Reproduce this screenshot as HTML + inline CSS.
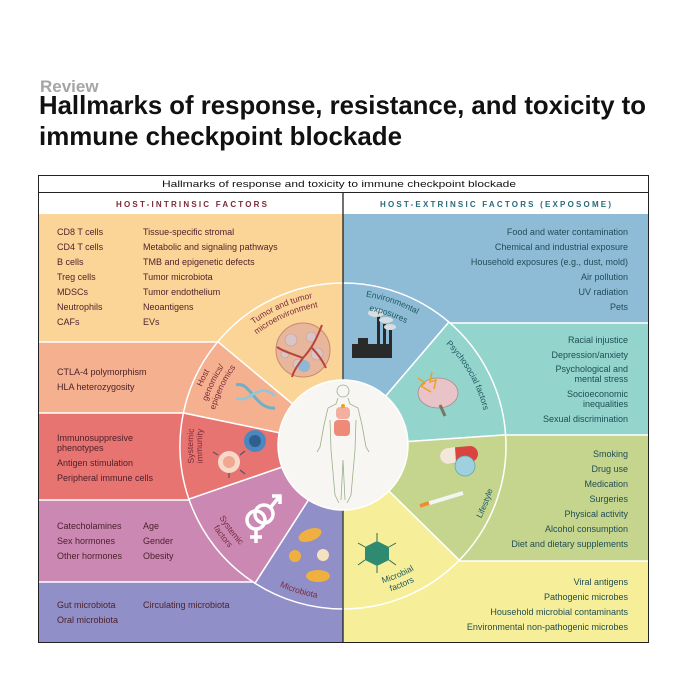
<!DOCTYPE html>
<html><head><meta charset="utf-8"><style>
html,body{margin:0;padding:0;background:#fff;}
svg{display:block;font-family:"Liberation Sans",Arial,sans-serif;}
.lt{font-size:9px;fill:#4a1f2a;}
.rt{font-size:9px;fill:#1f4d55;text-anchor:end;}
.ll{font-size:8.5px;fill:#7a2a3a;}
.rl{font-size:8.5px;fill:#1f5a60;}
</style></head><body>
<svg width="685" height="685" viewBox="0 0 685 685" xmlns="http://www.w3.org/2000/svg">
<defs>
<path id="t133" d="M241.1,360.5 A133,133 0 0 1 444.9,360.5"/>
<path id="t138" d="M237.3,357.3 A138,138 0 0 1 448.7,357.3"/>
<path id="t139" d="M236.5,356.6 A139,139 0 0 1 449.5,356.6"/>
<path id="t141" d="M235.0,355.3 A141,141 0 0 1 451.0,355.3"/>
<path id="t143" d="M233.5,354.1 A143,143 0 0 1 452.5,354.1"/>
<path id="t145" d="M231.9,352.8 A145,145 0 0 1 454.1,352.8"/>
<path id="t150" d="M228.1,349.6 A150,150 0 0 1 457.9,349.6"/>
<path id="t151" d="M227.3,348.9 A151,151 0 0 1 458.7,348.9"/>
<path id="t153" d="M225.8,347.6 A153,153 0 0 1 460.2,347.6"/>
<path id="b143" d="M233.5,537.9 A143,143 0 0 0 452.5,537.9"/>
<path id="b153" d="M225.8,544.4 A153,153 0 0 0 460.2,544.4"/>
<path id="b154" d="M225.0,545.0 A154,154 0 0 0 461.0,545.0"/>
<path id="b156" d="M223.5,546.3 A156,156 0 0 0 462.5,546.3"/>
</defs>

<rect width="685" height="685" fill="#fff"/>
<text x="40" y="92" font-size="17" font-weight="bold" fill="#a5a5a5">Review</text>
<text x="39" y="114" font-size="26" font-weight="bold" fill="#111" textLength="607" lengthAdjust="spacingAndGlyphs">Hallmarks of response, resistance, and toxicity to</text>
<text x="39" y="145" font-size="26" font-weight="bold" fill="#111" textLength="363" lengthAdjust="spacingAndGlyphs">immune checkpoint blockade</text>

<rect x="38" y="214" width="305" height="128" fill="#fbd597"/>
<rect x="38" y="342" width="305" height="71" fill="#f4b08f"/>
<rect x="38" y="413" width="305" height="87" fill="#e77470"/>
<rect x="38" y="500" width="305" height="82" fill="#cb88b3"/>
<rect x="38" y="582" width="305" height="60" fill="#918fc7"/>
<rect x="343" y="214" width="305" height="109" fill="#8ebbd6"/>
<rect x="343" y="323" width="305" height="112" fill="#93d4cc"/>
<rect x="343" y="435" width="305" height="126" fill="#c5d58d"/>
<rect x="343" y="561" width="305" height="81" fill="#f6ee98"/>
<g stroke="#fff" stroke-width="1.5">
<line x1="38" y1="342" x2="218" y2="342"/><line x1="38" y1="413" x2="184" y2="413"/>
<line x1="38" y1="500" x2="189" y2="500"/><line x1="38" y1="582" x2="255" y2="582"/>
<line x1="449" y1="323" x2="648" y2="323"/><line x1="505" y1="435" x2="648" y2="435"/>
<line x1="459" y1="561" x2="648" y2="561"/>
</g>

<g stroke="#fff" stroke-width="1.5">
<path d="M343,446 L217.8,341.7 A163,163 0 0 1 343,283 Z" fill="#fbd597"/>
<path d="M343,446 L343,283 A163,163 0 0 1 448.9,322.1 Z" fill="#8ebbd6"/>
<path d="M343,446 L448.9,322.1 A163,163 0 0 1 505.6,434.9 Z" fill="#93d4cc"/>
<path d="M343,446 L505.6,434.9 A163,163 0 0 1 459.3,560.2 Z" fill="#c5d58d"/>
<path d="M343,446 L459.3,560.2 A163,163 0 0 1 343,609 Z" fill="#f6ee98"/>
<path d="M343,446 L343,609 A163,163 0 0 1 255.0,583.2 Z" fill="#918fc7"/>
<path d="M343,446 L255.0,583.2 A163,163 0 0 1 188.9,499.1 Z" fill="#cb88b3"/>
<path d="M343,446 L188.9,499.1 A163,163 0 0 1 183.4,412.9 Z" fill="#e77470"/>
<path d="M343,446 L183.4,412.9 A163,163 0 0 1 217.8,341.7 Z" fill="#f4b08f"/>
</g>

<rect x="38.5" y="175.5" width="610" height="467" fill="none" stroke="#222" stroke-width="1"/>
<rect x="39" y="176" width="609" height="16" fill="#fff"/>
<rect x="39" y="192" width="609" height="22" fill="#fff"/>
<line x1="38" y1="192.5" x2="648" y2="192.5" stroke="#222" stroke-width="1"/>
<line x1="343" y1="192" x2="343" y2="642" stroke="#222" stroke-width="1.3"/>
<text x="162" y="187" font-size="9.5" fill="#111" textLength="354" lengthAdjust="spacingAndGlyphs">Hallmarks of response and toxicity to immune checkpoint blockade</text>
<text x="116" y="207" font-size="8" font-weight="bold" fill="#7a2a3a" textLength="151" lengthAdjust="spacing">HOST-INTRINSIC FACTORS</text>
<text x="380" y="207" font-size="8" font-weight="bold" fill="#2a6a7a" textLength="231" lengthAdjust="spacing">HOST-EXTRINSIC FACTORS (EXPOSOME)</text>

<g class="lt">
<text x="57" y="235">CD8 T cells</text><text x="57" y="250">CD4 T cells</text><text x="57" y="265">B cells</text>
<text x="57" y="280">Treg cells</text><text x="57" y="295">MDSCs</text><text x="57" y="310">Neutrophils</text><text x="57" y="325">CAFs</text>
<text x="143" y="235">Tissue-specific stromal</text><text x="143" y="250">Metabolic and signaling pathways</text>
<text x="143" y="265">TMB and epigenetic defects</text><text x="143" y="280">Tumor microbiota</text>
<text x="143" y="295">Tumor endothelium</text><text x="143" y="310">Neoantigens</text><text x="143" y="325">EVs</text>
<text x="57" y="375">CTLA-4 polymorphism</text><text x="57" y="390">HLA heterozygosity</text>
<text x="57" y="441">Immunosuppresive</text><text x="57" y="451">phenotypes</text>
<text x="57" y="466">Antigen stimulation</text><text x="57" y="481">Peripheral immune cells</text>
<text x="57" y="529">Catecholamines</text><text x="57" y="544">Sex hormones</text><text x="57" y="559">Other hormones</text>
<text x="143" y="529">Age</text><text x="143" y="544">Gender</text><text x="143" y="559">Obesity</text>
<text x="57" y="608">Gut microbiota</text><text x="57" y="623">Oral microbiota</text>
<text x="143" y="608">Circulating microbiota</text>
</g>
<g class="rt">
<text x="628" y="235">Food and water contamination</text><text x="628" y="250">Chemical and industrial exposure</text>
<text x="628" y="265">Household exposures (e.g., dust, mold)</text><text x="628" y="280">Air pollution</text>
<text x="628" y="295">UV radiation</text><text x="628" y="310">Pets</text>
<text x="628" y="343">Racial injustice</text><text x="628" y="358">Depression/anxiety</text>
<text x="628" y="372">Psychological and</text><text x="628" y="382">mental stress</text>
<text x="628" y="397">Socioeconomic</text><text x="628" y="407">inequalities</text>
<text x="628" y="422">Sexual discrimination</text>
<text x="628" y="457">Smoking</text><text x="628" y="472">Drug use</text><text x="628" y="487">Medication</text>
<text x="628" y="502">Surgeries</text><text x="628" y="517">Physical activity</text>
<text x="628" y="532">Alcohol consumption</text><text x="628" y="547">Diet and dietary supplements</text>
<text x="628" y="585">Viral antigens</text><text x="628" y="600">Pathogenic microbes</text>
<text x="628" y="615">Household microbial contaminants</text><text x="628" y="630">Environmental non-pathogenic microbes</text>
</g>

<!-- icons (drawn before labels) -->
<circle cx="303" cy="350" r="27" fill="#e8b69a" stroke="#c98a70" stroke-width="1"/>
<g fill="#d9c4c8" stroke="#c9a090" stroke-width="0.6">
<circle cx="291" cy="340" r="6"/><circle cx="311" cy="337" r="5"/><circle cx="317" cy="354" r="6"/>
<circle cx="298" cy="364" r="5"/><circle cx="285" cy="354" r="4"/></g>
<circle cx="304" cy="366" r="6" fill="#8fb8d6"/>
<path d="M322,325 C316,340 312,348 303,358 M303,358 C298,365 294,370 292,377 M312,348 C321,357 324,364 326,368 M303,358 C293,354 284,352 277,347" stroke="#b8443e" stroke-width="2" fill="none"/>
<path d="M236,385 C250,380 255,410 275,408" stroke="#6fb0c8" stroke-width="3" fill="none"/>
<path d="M236,398 C250,405 258,380 275,396" stroke="#8fc8d8" stroke-width="2.5" fill="none"/>
<circle cx="255" cy="441" r="11" fill="#4b88c0"/><circle cx="255" cy="441" r="6" fill="#2f5f90"/>
<circle cx="229" cy="462" r="11" fill="#f8d8c8"/><circle cx="229" cy="462" r="6" fill="#f0a890"/>
<g stroke="#556" stroke-width="1.2"><line x1="218" y1="455" x2="213" y2="452"/><line x1="240" y1="455" x2="245" y2="451"/><line x1="229" y1="473" x2="229" y2="478"/><line x1="240" y1="470" x2="245" y2="474"/></g>
<g stroke="#fff" stroke-width="3.5" fill="none">
<circle cx="256" cy="520" r="9"/><circle cx="264" cy="514" r="9"/>
<line x1="256" y1="529" x2="256" y2="543"/><line x1="250" y1="537" x2="262" y2="537"/>
<line x1="270" y1="508" x2="279" y2="497"/><path d="M272,496 L280,496 L280,504"/></g>
<g fill="#f0b040"><ellipse cx="310" cy="535" rx="12" ry="6" transform="rotate(-20 310 535)"/>
<circle cx="295" cy="556" r="6"/><ellipse cx="318" cy="576" rx="12" ry="6"/></g>
<circle cx="323" cy="555" r="6" fill="#f5e3c0"/>
<g fill="#2a2a2a"><rect x="352" y="344" width="40" height="14"/><rect x="377" y="316" width="3" height="30"/><rect x="383" y="324" width="3" height="22"/><rect x="389" y="330" width="3" height="16"/><rect x="358" y="338" width="10" height="8"/></g>
<g fill="#d8dde0"><ellipse cx="376" cy="313" rx="8" ry="4"/><ellipse cx="386" cy="320" rx="7" ry="3"/><ellipse cx="390" cy="327" rx="6" ry="3"/></g>
<ellipse cx="438" cy="393" rx="20" ry="15" fill="#e8c4c8" stroke="#a88" stroke-width="0.8"/>
<path d="M440,405 L445,416" stroke="#776" stroke-width="3"/>
<path d="M418,378 L425,383 L421,386 L431,392 M432,372 L430,382 L436,380 L434,389" stroke="#f0a020" stroke-width="1.5" fill="none"/>
<path d="M440,456 a8,8 0 0 1 8,-8 L470,446 a8,8 0 0 1 0,16 L448,464 a8,8 0 0 1 -8,-8Z" fill="#d94440"/>
<path d="M440,456 a8,8 0 0 1 8,-8 L455,447 L456,463 L448,464 a8,8 0 0 1 -8,-8Z" fill="#f2e8da"/>
<circle cx="465" cy="466" r="10" fill="#9fd0e0" stroke="#6aa" stroke-width="0.8"/>
<line x1="420" y1="506" x2="463" y2="493" stroke="#f4f4f4" stroke-width="4"/>
<line x1="420" y1="506" x2="429" y2="503" stroke="#e89030" stroke-width="4"/>
<polygon points="377,541 389,547 389,560 377,566 365,560 365,547" fill="#2e8a70"/>
<g stroke="#2e6a58" stroke-width="1"><line x1="377" y1="541" x2="377" y2="533"/><line x1="389" y1="547" x2="396" y2="543"/><line x1="389" y1="560" x2="396" y2="565"/><line x1="377" y1="566" x2="377" y2="573"/><line x1="365" y1="560" x2="358" y2="565"/><line x1="365" y1="547" x2="358" y2="543"/></g>

<g text-anchor="middle">
<text class="ll" transform="rotate(-24 343 446)"><textPath href="#t151" startOffset="50%">Tumor and tumor</textPath></text>
<text class="ll" transform="rotate(-24 343 446)"><textPath href="#t141" startOffset="50%">microenvironment</textPath></text>
<text class="ll" transform="rotate(-64 343 446)"><textPath href="#t153" startOffset="50%">Host</textPath></text>
<text class="ll" transform="rotate(-64 343 446)"><textPath href="#t143" startOffset="50%">genomics/</textPath></text>
<text class="ll" transform="rotate(-64 343 446)"><textPath href="#t133" startOffset="50%">epigenomics</textPath></text>
<text class="ll" transform="rotate(-90 343 446)"><textPath href="#t150" startOffset="50%">Systemic</textPath></text>
<text class="ll" transform="rotate(-90 343 446)"><textPath href="#t141" startOffset="50%">immunity</textPath></text>
<text class="ll" transform="rotate(53 343 446)"><textPath href="#b143" startOffset="50%">Systemic</textPath></text>
<text class="ll" transform="rotate(53 343 446)"><textPath href="#b153" startOffset="50%">factors</textPath></text>
<text class="ll" transform="rotate(17 343 446)"><textPath href="#b154" startOffset="50%">Microbiota</textPath></text>
<text class="rl" transform="rotate(19 343 446)"><textPath href="#t151" startOffset="50%">Environmental</textPath></text>
<text class="rl" transform="rotate(19 343 446)"><textPath href="#t138" startOffset="50%">exposures</textPath></text>
<text class="rl" transform="rotate(60.5 343 446)"><textPath href="#t145" startOffset="50%">Psychosocial factors</textPath></text>
<text class="rl" transform="rotate(-68 343 446)"><textPath href="#b156" startOffset="50%">Lifestyle</textPath></text>
<text class="rl" transform="rotate(-23 343 446)"><textPath href="#b143" startOffset="50%">Microbial</textPath></text>
<text class="rl" transform="rotate(-23 343 446)"><textPath href="#b153" startOffset="50%">factors</textPath></text>
</g>

<circle cx="343" cy="445" r="65" fill="#f8f6f2" stroke="#fff" stroke-width="1.5"/>
<g fill="none" stroke="#9ab08a" stroke-width="0.8">
<circle cx="343" cy="391" r="6"/>
<path d="M338,398 L336,404 L328,408 L324,425 L320,447 L317,452 M348,398 L350,404 L358,408 L362,425 L366,447 L369,452 M330,420 L331,450 L335,495 L339,503 M356,420 L355,450 L351,495 L347,503 M343,460 L341,500 M343,460 L345,500"/>
</g>
<rect x="336" y="407" width="14" height="12" rx="4" fill="#f2b0a0"/>
<rect x="334" y="420" width="16" height="16" rx="4" fill="#f08a78"/>
<circle cx="343" cy="406" r="2" fill="#f0a020"/>
</svg>
</body></html>
